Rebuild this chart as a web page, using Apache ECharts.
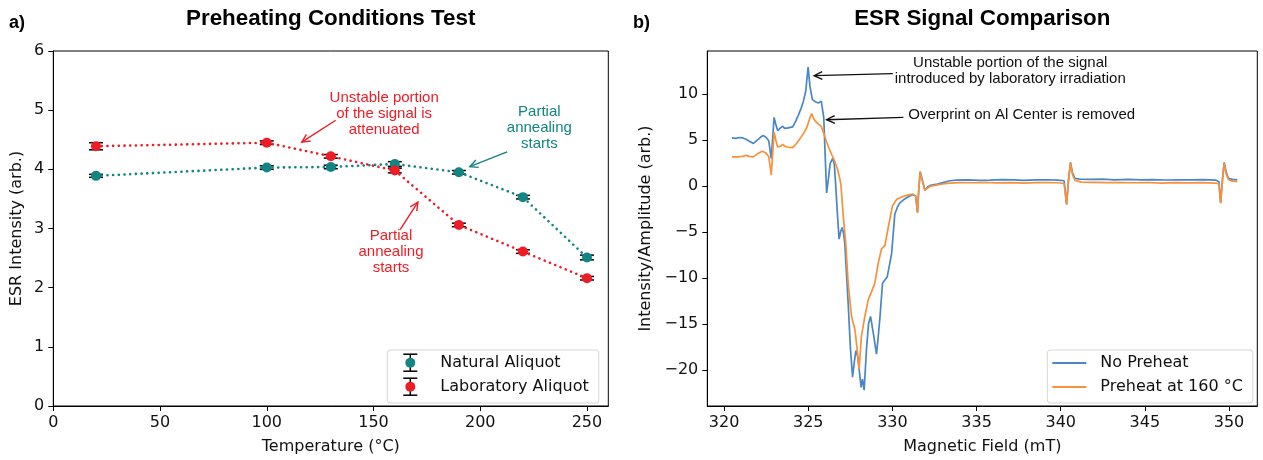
<!DOCTYPE html>
<html><head><meta charset="utf-8">
<script src="https://cdn.jsdelivr.net/npm/echarts@6/dist/echarts.min.js"></script>
<style>html,body{margin:0;padding:0;background:#fff}#c{width:1263px;height:460px}</style>
</head><body><div id="c"></div>
<script>
// ---------- Panel a) data ----------
const temps = [20, 100, 130, 160, 190, 220, 250];
const natural = [3.89, 4.03, 4.04, 4.09, 3.95, 3.53, 2.51];
const naturalErr = [0.025, 0.03, 0.03, 0.04, 0.03, 0.03, 0.04];
const lab = [4.39, 4.45, 4.22, 3.98, 3.06, 2.61, 2.16];
const labErr = [0.06, 0.03, 0.03, 0.04, 0.03, 0.03, 0.03];
const xTicksA = [0, 50, 100, 150, 200, 250];
const yTicksA = [0, 1, 2, 3, 4, 5, 6];

// ---------- Panel b) data ----------
const fieldNoPre = [320.46,320.7,320.9,321.1,321.3,321.5,321.74,321.9,322.06,322.2,322.34,322.5,322.65,322.8,322.97,323.08,323.18,323.35,323.48,323.6,323.8,324.07,324.25,324.39,324.55,324.71,324.85,324.99,325.1,325.24,325.45,325.6,325.77,325.92,326.0,326.09,326.2,326.3,326.45,326.55,326.64,326.72,326.83,326.92,327.01,327.1,327.17,327.37,327.5,327.63,327.73,327.83,327.93,328.02,328.14,328.22,328.32,328.46,328.58,328.7,328.89,329.05,329.15,329.25,329.41,329.55,329.69,329.8,329.95,330.14,330.3,330.44,330.64,330.84,331.03,331.23,331.38,331.49,331.56,331.65,331.78,331.93,332.1,332.25,332.67,333.0,333.41,333.8,334.5,335.2,335.8,336.5,337.2,337.8,338.5,339.2,339.8,340.2,340.35,340.45,340.58,340.7,340.84,341.1,341.8,342.5,343.2,344.0,344.8,345.5,346.2,347.0,347.8,348.5,349.2,349.4,349.5,349.6,349.71,349.83,349.96,350.2,350.49];
const ampNoPre = [5.2,5.15,5.25,5.2,5.05,4.85,4.6,4.85,5.1,5.35,5.45,5.25,4.9,2.97,7.44,6.6,6.0,6.3,6.47,6.25,6.3,6.4,7.0,7.6,8.3,9.2,10.3,12.9,10.8,9.4,9.1,9.0,9.2,7.4,3.5,-0.78,0.8,2.43,2.97,2.3,-0.25,-2.75,-5.8,-5.0,-4.53,-5.2,-6.3,-12.75,-17.5,-20.8,-19.2,-17.9,-18.5,-19.9,-21.9,-21.0,-22.2,-17.7,-15.0,-14.2,-16.3,-18.3,-16.5,-14.5,-10.6,-10.25,-9.9,-9.9,-7.4,-3.1,-2.3,-1.85,-1.55,-1.3,-1.1,-0.96,-1.1,-2.9,-0.5,1.54,0.6,-0.5,-0.1,0.04,0.2,0.35,0.55,0.62,0.65,0.6,0.62,0.68,0.65,0.6,0.65,0.66,0.62,0.55,-2.0,0.5,2.54,1.4,0.82,0.72,0.7,0.72,0.65,0.7,0.65,0.67,0.63,0.66,0.64,0.67,0.62,0.45,-1.85,0.5,2.54,1.5,0.82,0.7,0.65];
const fieldPre = [320.46,320.8,321.1,321.3,321.5,321.74,322.0,322.28,322.45,322.65,322.8,322.97,323.08,323.18,323.35,323.48,323.62,323.76,324.07,324.3,324.5,324.72,324.92,325.08,325.2,325.32,325.45,325.6,325.77,325.92,326.09,326.25,326.41,326.56,326.72,326.87,326.94,327.07,327.23,327.37,327.57,327.77,327.9,328.02,328.16,328.36,328.56,328.76,328.95,329.15,329.35,329.55,329.75,330.0,330.24,330.64,331.03,331.23,331.38,331.49,331.56,331.65,331.78,331.93,332.25,332.67,333.0,333.41,334.0,334.8,335.5,336.2,337.0,337.8,338.5,339.2,339.8,340.2,340.35,340.45,340.58,340.7,340.84,341.2,342.0,342.8,343.6,344.4,345.2,346.0,346.8,347.6,348.4,349.2,349.4,349.5,349.6,349.71,349.83,349.96,350.2,350.49];
const ampPre = [3.15,3.15,3.2,3.3,3.2,3.15,3.5,3.75,3.6,3.2,1.18,5.83,4.9,4.22,4.3,4.5,4.3,4.22,4.15,4.6,5.11,5.7,6.36,7.3,7.86,7.3,6.97,6.7,6.47,5.7,4.76,4.0,3.32,2.7,1.9,0.8,0.11,-3.1,-6.3,-10.6,-14.2,-15.6,-17.7,-19.9,-16.3,-14.2,-12.4,-11.5,-10.6,-8.47,-6.86,-6.5,-4.53,-2.2,-1.5,-1.14,-0.96,-0.9,-1.1,-2.93,-0.5,1.54,0.5,-0.45,-0.05,0.1,0.2,0.3,0.35,0.33,0.36,0.32,0.35,0.3,0.34,0.36,0.33,0.25,-2.05,0.3,2.5,1.2,0.6,0.4,0.38,0.35,0.36,0.33,0.36,0.3,0.34,0.32,0.35,0.3,0.2,-1.9,0.3,2.45,1.3,0.7,0.5,0.45];
const xTicksB = [320, 325, 330, 335, 340, 345, 350];
const yTicksB = [-20, -15, -10, -5, 0, 5, 10];

// annotations (anchored in data coordinates)
const annotationsA = [
  {text: 'Unstable portion\nof the signal is\nattenuated', at: [155, 4.93], color: '#ee1d25', from: [132.3, 4.83], to: [116.4, 4.46]},
  {text: 'Partial\nannealing\nstarts', at: [227.7, 4.70], color: '#138484', from: [212.6, 4.295], to: [195.1, 4.045]},
  {text: 'Partial\nannealing\nstarts', at: [158.2, 2.61], color: '#ee1d25', from: [162.5, 2.98], to: [170.8, 3.445]}
];
const annotationsB = [
  {text: 'Unstable portion of the signal\nintroduced by laboratory irradiation', at: [337.0, 12.45], color: '#111', from: [330.02, 12.19], to: [325.35, 11.97]},
  {text: 'Overprint on Al Center is removed', at: [337.68, 7.67], color: '#111', from: [330.65, 7.44], to: [326.09, 7.18]}
];

const TEAL = '#138484', RED = '#ee1d25', BLUE = '#4a86c6', ORANGE = '#f7913c';
const TICK_FONT = 'DejaVu Sans';
const ANN_FONT = '"Liberation Sans", Arial, sans-serif';

const chart = echarts.init(document.getElementById('c'), null, {renderer: 'canvas'});

function errSeries(vals, errs) {
  return temps.map((t, i) => [t, vals[i] - errs[i], vals[i] + errs[i]]);
}
function errRender(params, api) {
  const x = api.value(0);
  const lo = api.coord([x, api.value(1)]);
  const hi = api.coord([x, api.value(2)]);
  const w = 7;
  const st = {stroke: '#000', lineWidth: 1.5};
  return {type: 'group', children: [
    {type: 'line', shape: {x1: lo[0], y1: lo[1], x2: hi[0], y2: hi[1]}, style: st},
    {type: 'line', shape: {x1: lo[0] - w, y1: lo[1], x2: lo[0] + w, y2: lo[1]}, style: st},
    {type: 'line', shape: {x1: hi[0] - w, y1: hi[1], x2: hi[0] + w, y2: hi[1]}, style: st}
  ]};
}
const minus = v => String(v).replace('-', '\u2212');

const axisCommon = {
  axisLine: {show: true, onZero: false, lineStyle: {color: '#000', width: 1}},
  axisTick: {show: true, length: 5, lineStyle: {color: '#000', width: 1}},
  splitLine: {show: false},
  nameTextStyle: {fontFamily: TICK_FONT, fontSize: 16, color: '#111'}
};
const labelCommon = {fontFamily: TICK_FONT, fontSize: 16, color: '#111'};
const dotted = {width: 2.6, type: [0.1, 5.6], cap: 'round'};

const option = {
  animation: false,
  backgroundColor: '#fff',
  title: [
    {text: 'Preheating Conditions Test', left: 330.7, top: 8, textAlign: 'center', padding: 0,
     textStyle: {fontFamily: ANN_FONT, fontWeight: 'bold', fontSize: 22.4, color: '#000'}},
    {text: 'ESR Signal Comparison', left: 982.3, top: 8, textAlign: 'center', padding: 0,
     textStyle: {fontFamily: ANN_FONT, fontWeight: 'bold', fontSize: 22.4, color: '#000'}},
    {text: 'a)', left: 9, top: 14, padding: 0, textStyle: {fontFamily: ANN_FONT, fontWeight: 'bold', fontSize: 18, color: '#000'}},
    {text: 'b)', left: 633, top: 14, padding: 0, textStyle: {fontFamily: ANN_FONT, fontWeight: 'bold', fontSize: 18, color: '#000'}}
  ],
  grid: [
    {left: 53.3, top: 51, width: 555, height: 360, show: true, borderColor: '#000', borderWidth: 1, containLabel: false},
    {left: 707.3, top: 51, width: 550, height: 360, show: true, borderColor: '#000', borderWidth: 1, containLabel: false}
  ],
  xAxis: [
    Object.assign({}, axisCommon, {type: 'value', gridIndex: 0, min: 0, max: 260,
      name: 'Temperature (°C)', nameLocation: 'middle', nameGap: 33,
      axisTick: Object.assign({}, axisCommon.axisTick, {customValues: xTicksA}),
      axisLabel: Object.assign({}, labelCommon, {margin: 9, customValues: xTicksA})}),
    Object.assign({}, axisCommon, {type: 'value', gridIndex: 1, min: 319, max: 351.68,
      name: 'Magnetic Field (mT)', nameLocation: 'middle', nameGap: 33,
      axisTick: Object.assign({}, axisCommon.axisTick, {customValues: xTicksB}),
      axisLabel: Object.assign({}, labelCommon, {margin: 9, customValues: xTicksB})})
  ],
  yAxis: [
    Object.assign({}, axisCommon, {type: 'value', gridIndex: 0, min: 0, max: 6,
      name: 'ESR Intensity (arb.)', nameLocation: 'middle', nameGap: 28, nameRotate: 90,
      axisTick: Object.assign({}, axisCommon.axisTick, {customValues: yTicksA}),
      axisLabel: Object.assign({}, labelCommon, {margin: 9, customValues: yTicksA})}),
    Object.assign({}, axisCommon, {type: 'value', gridIndex: 1, min: -23.93, max: 14.65,
      name: 'Intensity/Amplitude (arb.)', nameLocation: 'middle', nameGap: 53, nameRotate: 90,
      axisTick: Object.assign({}, axisCommon.axisTick, {customValues: yTicksB}),
      axisLabel: Object.assign({}, labelCommon, {margin: 9, customValues: yTicksB, formatter: minus})})
  ],
  legend: [
    {show: true, orient: 'vertical', left: 387.3, top: 350, padding: [5, 10, 8, 8],
     itemWidth: 35, itemHeight: 10, itemGap: 8,
     borderColor: '#d5d5d5', borderWidth: 1, borderRadius: 3,
     itemStyle: {opacity: 0},
     textStyle: {fontFamily: TICK_FONT, fontSize: 16, color: '#111', lineHeight: 16, padding: [0, 0, 0, 5]},
     data: [{name: 'Natural Aliquot', icon: 'rect'}, {name: 'Laboratory Aliquot', icon: 'rect'}]},
    {show: true, orient: 'vertical', left: 1047.3, top: 350, padding: [5, 10, 8, 5],
     itemWidth: 34, itemHeight: 2, itemGap: 8,
     borderColor: '#d5d5d5', borderWidth: 1, borderRadius: 3,
     textStyle: {fontFamily: TICK_FONT, fontSize: 16, color: '#111', lineHeight: 16, padding: [0, 0, 0, 9]},
     data: [{name: 'No Preheat', icon: 'rect'}, {name: 'Preheat at 160 °C', icon: 'rect'}]}
  ],
  series: [
    {type: 'custom', name: 'natErr', xAxisIndex: 0, yAxisIndex: 0, z: 2, renderItem: errRender,
     data: errSeries(natural, naturalErr), silent: true},
    {type: 'custom', name: 'labErr', xAxisIndex: 0, yAxisIndex: 0, z: 2, renderItem: errRender,
     data: errSeries(lab, labErr), silent: true},
    {type: 'line', name: 'Natural Aliquot', xAxisIndex: 0, yAxisIndex: 0, z: 3,
     data: temps.map((t, i) => [t, natural[i]]), symbol: 'circle', symbolSize: 10,
     itemStyle: {color: TEAL}, lineStyle: Object.assign({color: TEAL}, dotted)},
    {type: 'line', name: 'Laboratory Aliquot', xAxisIndex: 0, yAxisIndex: 0, z: 4,
     data: temps.map((t, i) => [t, lab[i]]), symbol: 'circle', symbolSize: 10,
     itemStyle: {color: RED}, lineStyle: Object.assign({color: RED}, dotted)},
    {type: 'line', name: 'No Preheat', xAxisIndex: 1, yAxisIndex: 1, z: 3, showSymbol: false, symbol: 'none',
     data: fieldNoPre.map((b, i) => [b, ampNoPre[i]]),
     itemStyle: {color: BLUE}, lineStyle: {color: BLUE, width: 1.7}},
    {type: 'line', name: 'Preheat at 160 °C', xAxisIndex: 1, yAxisIndex: 1, z: 4, showSymbol: false, symbol: 'none',
     data: fieldPre.map((b, i) => [b, ampPre[i]]),
     itemStyle: {color: ORANGE}, lineStyle: {color: ORANGE, width: 1.7}}
  ]
};
chart.setOption(option);

function arrowEls(gridIndex, from, to, color) {
  const a = chart.convertToPixel({gridIndex}, from);
  const b = chart.convertToPixel({gridIndex}, to);
  const ang = Math.atan2(b[1] - a[1], b[0] - a[0]);
  const L = 9, h = 0.45;
  const p1 = [b[0] - L * Math.cos(ang - h), b[1] - L * Math.sin(ang - h)];
  const p2 = [b[0] - L * Math.cos(ang + h), b[1] - L * Math.sin(ang + h)];
  const st = {stroke: color, lineWidth: 1.4, fill: null};
  return [
    {type: 'line', z: 10, silent: true, shape: {x1: a[0], y1: a[1], x2: b[0], y2: b[1]}, style: st},
    {type: 'polyline', z: 10, silent: true, shape: {points: [p1, b, p2]}, style: st}
  ];
}
function textEl(gridIndex, ann) {
  const p = chart.convertToPixel({gridIndex}, ann.at);
  return {type: 'text', z: 10, silent: true, x: p[0], y: p[1],
    style: {text: ann.text, fill: ann.color, font: '15px ' + ANN_FONT, lineHeight: 16,
      align: 'center', verticalAlign: 'middle', textAlign: 'center', textVerticalAlign: 'middle'}};
}
const els = [];
annotationsA.forEach(a => { els.push(textEl(0, a)); els.push(...arrowEls(0, a.from, a.to, a.color)); });
annotationsB.forEach(a => { els.push(textEl(1, a)); els.push(...arrowEls(1, a.from, a.to, a.color)); });
// error-bar + marker glyphs for the panel a) legend
[[362.7, TEAL], [386.7, RED]].forEach(([cy, col]) => {
  const cx = 410.3, st = {stroke: '#000', lineWidth: 1.5};
  els.push({type: 'line', z: 20, silent: true, shape: {x1: cx, y1: cy - 8.5, x2: cx, y2: cy + 8.5}, style: st});
  els.push({type: 'line', z: 20, silent: true, shape: {x1: cx - 7, y1: cy - 8.5, x2: cx + 7, y2: cy - 8.5}, style: st});
  els.push({type: 'line', z: 20, silent: true, shape: {x1: cx - 7, y1: cy + 8.5, x2: cx + 7, y2: cy + 8.5}, style: st});
  els.push({type: 'circle', z: 21, silent: true, shape: {cx: cx, cy: cy, r: 5}, style: {fill: col}});
});
chart.setOption({graphic: {elements: els}});
</script>
</body></html>
